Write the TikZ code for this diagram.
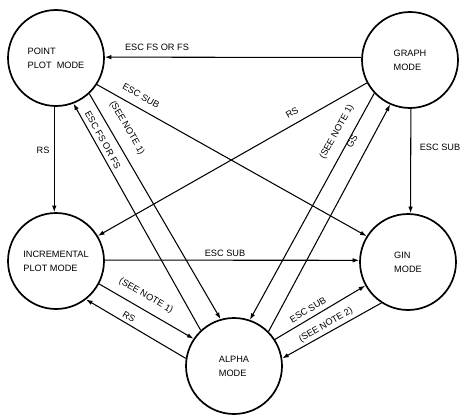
\documentclass[tikz,border=0pt]{standalone}
\usepackage{fontspec}
\setmainfont{Liberation Sans}
\usetikzlibrary{arrows.meta}
\begin{document}
\begin{tikzpicture}[x=1pt,y=-1pt,
  mode/.style={circle,draw,line width=1.7pt,minimum size=96pt,inner sep=0pt,align=left,
    font=\fontsize{9.2}{14}\selectfont},
  conn/.style={line width=1.05pt,-{Latex[length=6.5pt,width=4.5pt]}},
  lbl/.style={font=\fontsize{9.2}{10}\selectfont,inner sep=0pt}]
\useasboundingbox (0,0) rectangle (466,420);
\node[mode] (pp) at (56,58) {POINT\\PLOT\ \ MODE};
\node[mode] (gr) at (410,60) {GRAPH\\MODE};
\node[mode] (inc) at (56,261) {INCREMENTAL\\PLOT MODE};
\node[mode] (gin) at (408,262) {GIN\\MODE};
\node[mode] (al) at (234,366) {ALPHA\\MODE};
% edges
\draw[conn] (gr.177) -- (pp.1);
\draw[conn] (pp.-92) -- (inc.92);
\draw[conn] (pp.-33) -- (gin.148);
\draw[conn] (al.133) -- (pp.-69);
\draw[conn] (pp.-47) -- (al.106);
\draw[conn] (gr.-152) -- (inc.31);
\draw[conn] (gr.-137) -- (al.71);
\draw[conn] (al.45) -- (gr.-114);
\draw[conn] (gr.-89) -- (gin.87);
\draw[conn] (inc.1) -- (gin.178);
\draw[conn] (inc.-28) -- (al.146);
\draw[conn] (al.171) -- (inc.-52);
\draw[conn] (al.33) -- (gin.-151);
\draw[conn] (gin.-123) -- (al.9);
% labels
\node[lbl] (l1) at (157,47) {ESC FS OR FS};
\node[lbl] (l2) at (43,150) {RS};
\node[lbl,rotate=-29] (l3) at (141,96) {ESC SUB};
\node[lbl,rotate=-61] (l4) at (103,140) {ESC FS OR FS};
\node[lbl,rotate=-60] (l5) at (127,128) {(SEE NOTE 1)};
\node[lbl,rotate=30] (l6) at (292,113) {RS};
\node[lbl,rotate=61] (l7) at (337,132) {(SEE NOTE 1)};
\node[lbl,rotate=62] (l8) at (352,141) {GS};
\node[lbl] (l9) at (440,147) {ESC SUB};
\node[lbl] (l10) at (225,253) {ESC SUB};
\node[lbl,rotate=-30] (l11) at (146,296) {(SEE NOTE 1)};
\node[lbl,rotate=-30] (l12) at (129,317) {RS};
\node[lbl,rotate=31] (l13) at (308,310) {ESC SUB};
\node[lbl,rotate=30] (l14) at (326,325) {(SEE NOTE 2)};
\end{tikzpicture}
\end{document}
